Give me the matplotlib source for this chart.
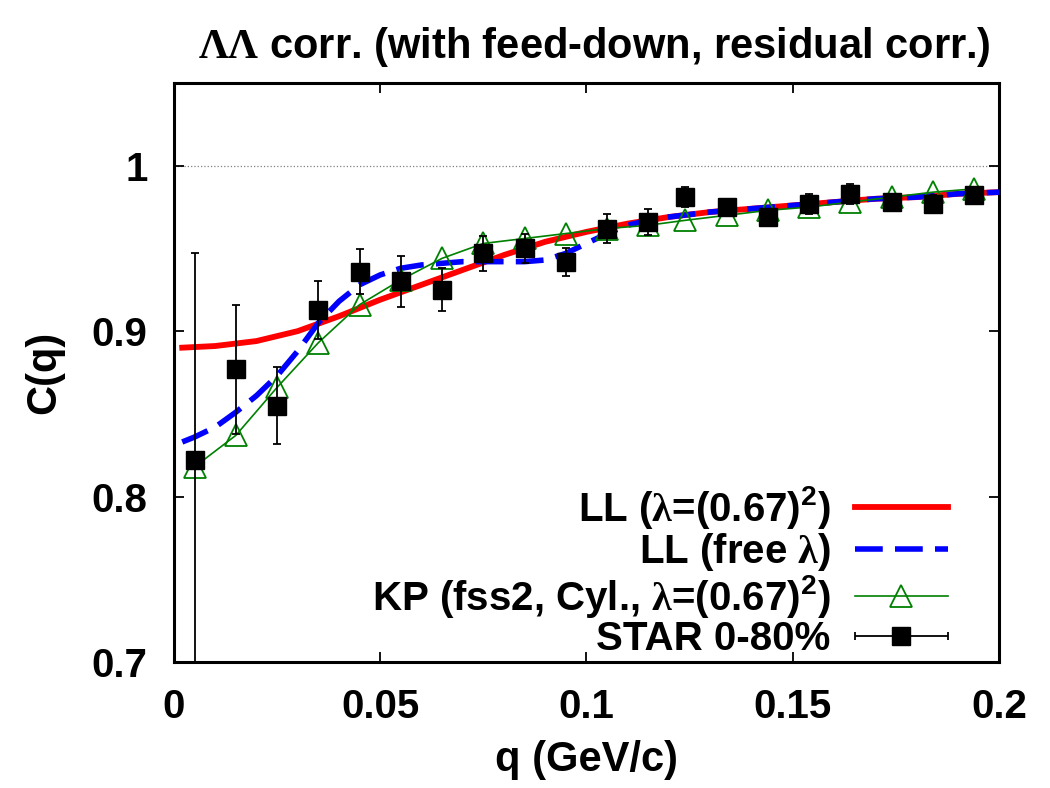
import numpy as np
import matplotlib
matplotlib.use('Agg')
import matplotlib.pyplot as plt
from matplotlib.legend_handler import HandlerErrorbar

plt.rcParams['font.family'] = ['Liberation Sans', 'DejaVu Sans']
plt.rcParams['font.weight'] = 'bold'
plt.rcParams['mathtext.fontset'] = 'custom'
plt.rcParams['mathtext.rm'] = 'Liberation Serif'
plt.rcParams['mathtext.bf'] = 'Liberation Sans:bold'

# --------------------------------------------------------------------------------
# data
# --------------------------------------------------------------------------------

# STAR 0-80% data
q_star = [0.005, 0.015, 0.025, 0.035, 0.045, 0.055, 0.065, 0.075, 0.085, 0.095,
          0.105, 0.115, 0.124, 0.134, 0.144, 0.154, 0.164, 0.174, 0.184, 0.194]
c_star = [0.822, 0.877, 0.855, 0.913, 0.936, 0.930, 0.925, 0.947, 0.950, 0.942,
          0.962, 0.966, 0.981, 0.975, 0.969, 0.977, 0.983, 0.978, 0.977, 0.982]
err_star = [0.125, 0.039, 0.0235, 0.0175, 0.0135, 0.0155, 0.013, 0.0105, 0.009, 0.0085,
            0.009, 0.008, 0.006, 0.005, 0.005, 0.006, 0.006, 0.005, 0.005, 0.005]

# KP (fss2, Cyl.) at the same q
c_kp = [0.818, 0.837, 0.866, 0.893, 0.916, 0.931, 0.944, 0.953, 0.956, 0.959,
        0.962, 0.964, 0.967, 0.970, 0.973, 0.975, 0.978, 0.981, 0.984, 0.986]

# LL (lambda = 0.67^2)
q_ll = [0.002, 0.01, 0.02, 0.03, 0.04, 0.05, 0.06, 0.07, 0.08, 0.09, 0.10,
        0.11, 0.12, 0.13, 0.14, 0.15, 0.16, 0.17, 0.18, 0.19, 0.20]
c_ll = [0.890, 0.891, 0.894, 0.900, 0.909, 0.919, 0.928, 0.937, 0.946, 0.954, 0.960,
        0.965, 0.969, 0.972, 0.974, 0.976, 0.978, 0.980, 0.981, 0.983, 0.984]

# LL (free lambda)
q_free = [0.002, 0.005, 0.01, 0.015, 0.02, 0.025, 0.03, 0.035, 0.04, 0.045, 0.05,
          0.055, 0.06, 0.065, 0.07, 0.075, 0.08, 0.085, 0.09, 0.095, 0.10, 0.105,
          0.11, 0.115, 0.12, 0.13, 0.14, 0.15, 0.16, 0.17, 0.18, 0.19, 0.20]
c_free = [0.833, 0.836, 0.842, 0.851, 0.861, 0.873, 0.888, 0.905, 0.918, 0.928, 0.934,
          0.938, 0.940, 0.941, 0.942, 0.942, 0.942, 0.942, 0.943, 0.947, 0.953, 0.959,
          0.964, 0.967, 0.969, 0.972, 0.974, 0.976, 0.978, 0.980, 0.981, 0.983, 0.984]

# --------------------------------------------------------------------------------
# plot
# --------------------------------------------------------------------------------

fig = plt.figure(figsize=(10.5, 7.88), dpi=100)
ax = fig.add_axes([0.1657, 0.1599, 0.7857, 0.7348])

ax.axhline(1.0, color='gray', ls=':', lw=0.9, zorder=1)

l1, = ax.plot(q_ll, c_ll, color='red', lw=4.2, zorder=2,
              label=r'LL ($\mathrm{\lambda}$=(0.67)$^{\mathbf{2}}$)')
l2, = ax.plot(q_free, c_free, color='blue', lw=4.0, ls=(0, (5, 2.2)), zorder=3,
              label=r'LL (free $\mathrm{\lambda}$)')
l3, = ax.plot(q_star, c_kp, color='green', lw=1.2, marker='^', ms=16, mfc='none',
              mec='green', mew=1.3, zorder=4,
              label=r'KP (fss2, Cyl., $\mathrm{\lambda}$=(0.67)$^{\mathbf{2}}$)')
ax.errorbar(q_star, c_star, yerr=err_star, fmt='s', color='black', ms=13,
            elinewidth=1.3, capsize=3, capthick=1.3, zorder=5)

# legend proxy for the data (horizontal bar as in the original)
star = ax.errorbar([np.nan], [np.nan], xerr=[0.01], fmt='s', color='black', ms=13,
                   elinewidth=1.3, capsize=3, capthick=1.3, label='STAR 0-80%')

leg = ax.legend(handles=[l1, l2, l3, star], loc='lower right', frameon=False,
                markerfirst=False, fontsize=29, handlelength=2.3, handletextpad=0.6,
                labelspacing=0.0, borderaxespad=0.2, bbox_to_anchor=(0.967, -0.035),
                handler_map={star: HandlerErrorbar(xerr_size=1.15)})
for t in leg.get_texts():
    t.set_ha('right')

ax.set_xlim(0, 0.2)
ax.set_ylim(0.7, 1.05)
ax.set_xticks([0, 0.05, 0.1, 0.15, 0.2])
ax.set_xticklabels(['0', '0.05', '0.1', '0.15', '0.2'])
ax.set_yticks([0.7, 0.8, 0.9, 1.0])
ax.set_yticklabels(['0.7', '0.8', '0.9', '1'])
ax.tick_params(direction='in', length=7, width=1.3, top=True, right=True,
               labelsize=29)
ax.tick_params(axis='x', pad=19)
ax.tick_params(axis='y', pad=19)
for s in ax.spines.values():
    s.set_linewidth(2.2)

ax.set_xlabel('q (GeV/c)', fontsize=30, fontweight='bold', labelpad=10)
ax.set_ylabel('C(q)', fontsize=30, fontweight='bold', labelpad=20)
ax.set_title(r'$\mathrm{\Lambda\Lambda}$ corr. (with feed-down, residual corr.)',
             fontsize=30, fontweight='bold', pad=18, x=0.51)

fig.savefig('out.png', dpi=100)
